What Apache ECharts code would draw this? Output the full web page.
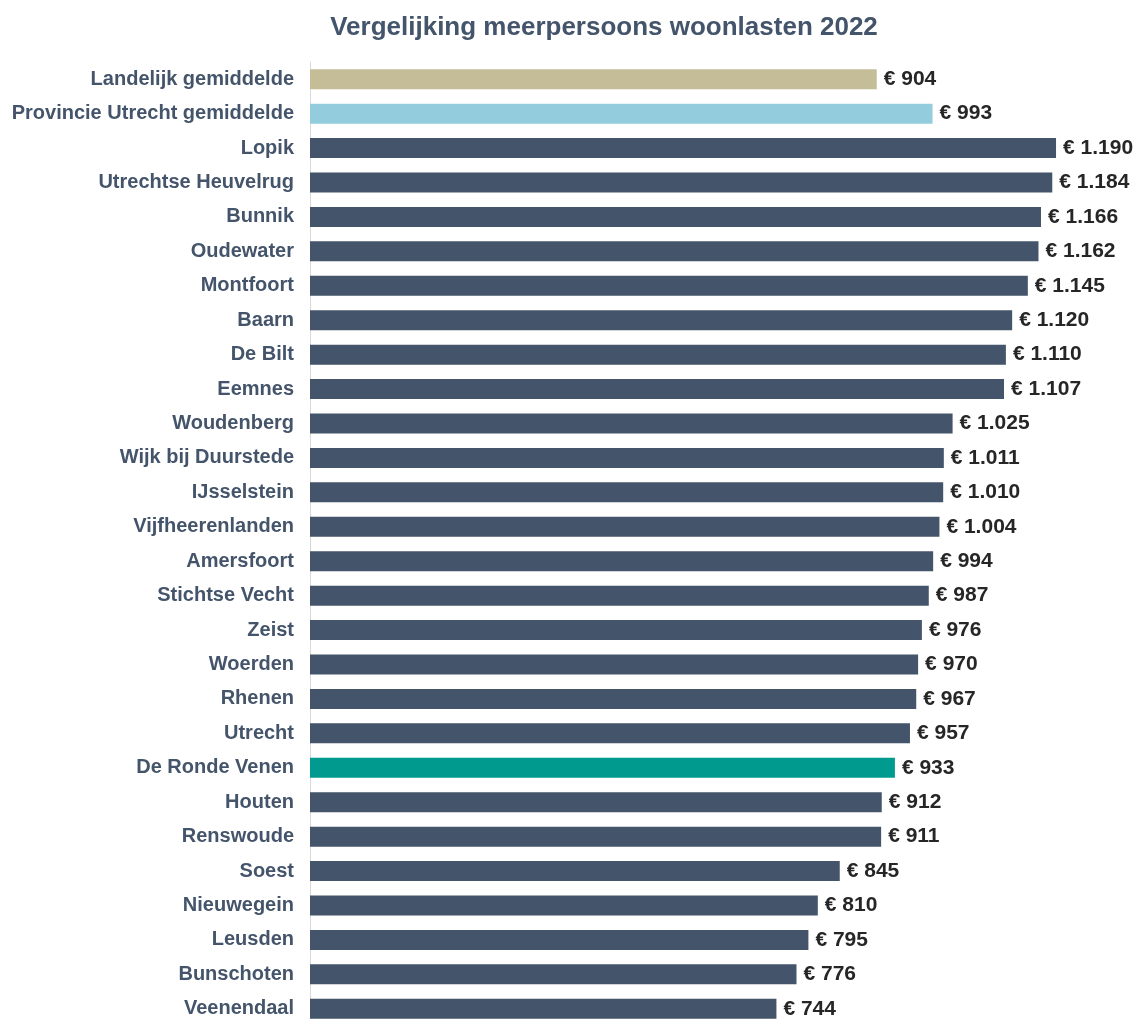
<!DOCTYPE html>
<html>
<head>
<meta charset="utf-8">
<script src="https://cdn.jsdelivr.net/npm/echarts@6/dist/echarts.min.js"></script>
<style>
  html, body { margin: 0; padding: 0; background: #fff; }
  #chart { width: 1134px; height: 1019px; }
</style>
</head>
<body>
<div id="chart"></div>
<script>
// gemeenten, van boven naar beneden
const categories = [
  'Landelijk gemiddelde', 'Provincie Utrecht gemiddelde', 'Lopik', 'Utrechtse Heuvelrug',
  'Bunnik', 'Oudewater', 'Montfoort', 'Baarn', 'De Bilt', 'Eemnes', 'Woudenberg',
  'Wijk bij Duurstede', 'IJsselstein', 'Vijfheerenlanden', 'Amersfoort', 'Stichtse Vecht',
  'Zeist', 'Woerden', 'Rhenen', 'Utrecht', 'De Ronde Venen', 'Houten', 'Renswoude',
  'Soest', 'Nieuwegein', 'Leusden', 'Bunschoten', 'Veenendaal'
]
const woonlasten = [
  904, 993, 1190, 1184, 1166, 1162, 1145, 1120, 1110, 1107, 1025,
  1011, 1010, 1004, 994, 987, 976, 970, 967, 957, 933, 912, 911,
  845, 810, 795, 776, 744
]

const defaultColor = '#44546A'
const highlight = {
  'Landelijk gemiddelde': '#C4BD97',
  'Provincie Utrecht gemiddelde': '#93CDDD',
  'De Ronde Venen': '#009A8E'
}

function euro(v) {
  return '€ ' + String(v).replace(/\B(?=(\d{3})+(?!\d))/g, '.')
}

const chart = echarts.init(document.getElementById('chart'))
chart.setOption({
  animation: false,
  textStyle: { fontFamily: 'Liberation Sans, Arial, sans-serif' },
  title: {
    text: 'Vergelijking meerpersoons woonlasten 2022',
    left: 599,
    textAlign: 'center',
    top: 10,
    textStyle: { fontSize: 26, fontWeight: 'bold', color: '#44546A' }
  },
  grid: { left: 310, top: 62, width: 815, height: 964, outerBoundsMode: 'none', containLabel: false },
  xAxis: {
    type: 'value',
    min: 0,
    max: 1300,
    show: false
  },
  yAxis: {
    type: 'category',
    inverse: true,
    data: categories,
    axisTick: { show: false },
    axisLine: { lineStyle: { color: '#D9D9D9', width: 1 } },
    axisLabel: {
      margin: 16,
      fontSize: 20,
      fontWeight: 'bold',
      color: '#44546A'
    }
  },
  series: [{
    type: 'bar',
    barWidth: 20,
    data: woonlasten.map((v, i) => ({
      value: v,
      itemStyle: { color: highlight[categories[i]] || defaultColor }
    })),
    label: {
      show: true,
      position: 'right',
      distance: 7,
      fontSize: 21,
      fontWeight: 'bold',
      color: '#262626',
      formatter: p => euro(p.value)
    }
  }]
})
</script>
</body>
</html>
